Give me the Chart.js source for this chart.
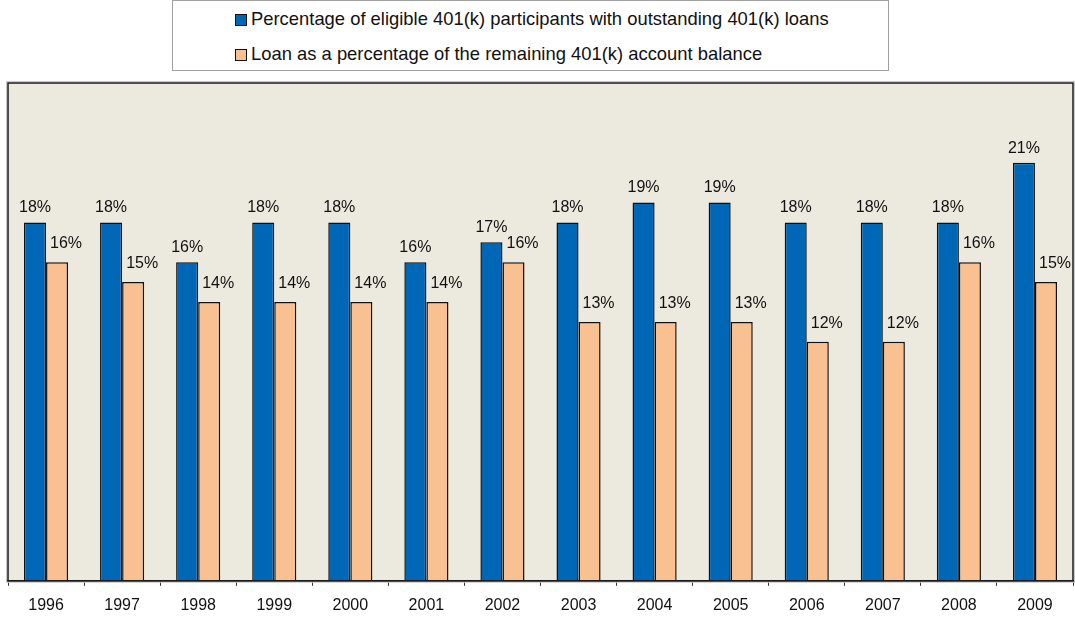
<!DOCTYPE html>
<html>
<head>
<meta charset="utf-8">
<script src="https://cdn.jsdelivr.net/npm/chart.js@4"></script>
<style>
  html, body { margin: 0; background: #fff; font-family: "Liberation Sans", Arial, sans-serif; overflow: hidden; }
  #wrap { position: relative; width: 1075px; height: 627px; }
  #legend {
    position: absolute; left: 172px; top: 0; width: 717px; height: 71px;
    border: 1px solid #a0a0a0; background: #fff; box-sizing: border-box;
    font-size: 18.4px; color: #111;
  }
  .item { position: absolute; left: 62px; white-space: nowrap; }
  .item span.sw { display: inline-block; width: 10px; height: 10px; border: 1px solid #111; margin-right: 4px; vertical-align: -1px; }
</style>
</head>
<body>
<div id="wrap">
  <canvas id="canvas"></canvas>
  <div id="legend"></div>
</div>
<script>
var years = ["1996","1997","1998","1999","2000","2001","2002","2003","2004","2005","2006","2007","2008","2009"];
var participantsWithLoans = [18, 18, 16, 18, 18, 16, 17, 18, 19, 19, 18, 18, 18, 21];
var loanPctOfBalance = [16, 15, 14, 14, 14, 14, 16, 13, 13, 13, 12, 12, 16, 15];
var seriesNames = [
  "Percentage of eligible 401(k) participants with outstanding 401(k) loans",
  "Loan as a percentage of the remaining 401(k) account balance"
];
var blue = "#0067b6";
var orange = "#f9c191";

// legend box above the plot
var legendEl = document.getElementById("legend");
[blue, orange].forEach(function(c, i) {
  var d = document.createElement("div");
  d.className = "item";
  d.style.top = (i == 0 ? 7 : 42) + "px";
  d.innerHTML = '<span class="sw" style="background:' + c + '"></span>' + seriesNames[i];
  legendEl.appendChild(d);
});

// plot background + frame
var framePlugin = {
  id: "frame",
  beforeDraw: function(chart) {
    var a = chart.chartArea, ctx = chart.ctx;
    ctx.save();
    ctx.fillStyle = "#ece9df";
    ctx.fillRect(a.left, a.top, a.right - a.left, a.bottom - a.top);
    ctx.restore();
  },
  afterDraw: function(chart) {
    var a = chart.chartArea, ctx = chart.ctx;
    ctx.save();
    ctx.strokeStyle = "#c8c8c8";
    ctx.lineWidth = 1;
    ctx.strokeRect(a.left - 1.5, a.top - 1.5, a.right - a.left + 3, a.bottom - a.top + 3);
    ctx.strokeStyle = "#1a1a1a";
    ctx.lineWidth = 1.5;
    ctx.strokeRect(a.left, a.top, a.right - a.left, a.bottom - a.top);
    ctx.restore();
  }
};

// value labels above bars
var labelPlugin = {
  id: "valueLabels",
  afterDatasetsDraw: function(chart) {
    var ctx = chart.ctx;
    ctx.save();
    ctx.font = "16px 'Liberation Sans', Arial, sans-serif";
    ctx.fillStyle = "#111";
    ctx.textAlign = "center";
    ctx.textBaseline = "alphabetic";
    chart.data.datasets.forEach(function(ds, i) {
      var meta = chart.getDatasetMeta(i);
      meta.data.forEach(function(bar, j) {
        var dx = i == 1 ? 9 : 0;
        var dy = i == 1 ? 14 : 10;
        ctx.fillText(ds.data[j] + "%", bar.x + dx, bar.y - dy);
      });
    });
    ctx.restore();
  }
};

var ctx = document.getElementById("canvas").getContext("2d");
window.myBar = new Chart(ctx, {
  type: "bar",
  data: {
    labels: years,
    datasets: [
      { label: seriesNames[0], data: participantsWithLoans, backgroundColor: blue, borderColor: "#111", borderWidth: 1.5 },
      { label: seriesNames[1], data: loanPctOfBalance, backgroundColor: orange, borderColor: "#111", borderWidth: 1.5 }
    ]
  },
  options: {
    responsive: true,
    maintainAspectRatio: false,
    animation: false,
    layout: { padding: { left: 8, right: 2, top: 83, bottom: 2 } },
    plugins: { legend: { display: false }, tooltip: { enabled: false } },
    datasets: { bar: { categoryPercentage: 0.58, barPercentage: 1.0 } },
    scales: {
      x: {
        grid: { display: true, drawOnChartArea: false, color: "#333", tickLength: 5, offset: true },
        border: { display: true, color: "#111", width: 1.5 },
        ticks: { color: "#111", padding: 10, font: { size: 16, family: "'Liberation Sans', Arial, sans-serif" } }
      },
      y: {
        display: false,
        min: 0,
        max: 25
      }
    }
  },
  plugins: [framePlugin, labelPlugin]
});
</script>
</body>
</html>
